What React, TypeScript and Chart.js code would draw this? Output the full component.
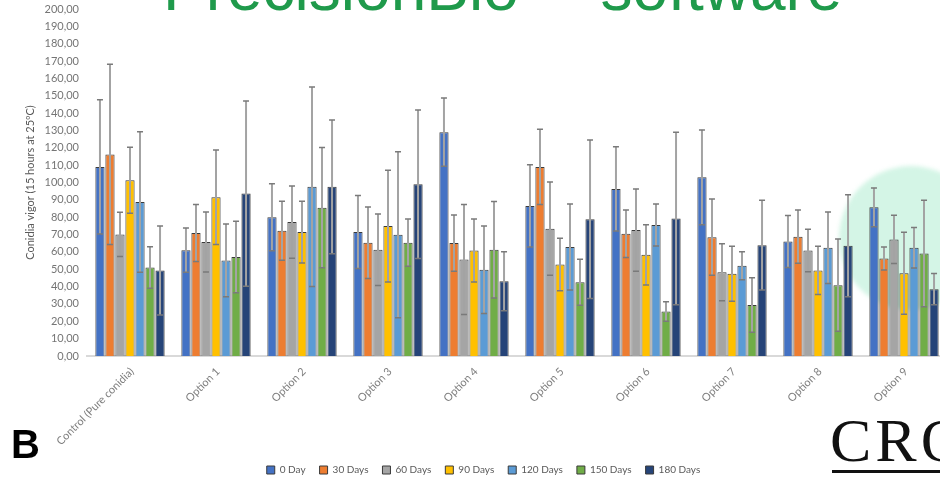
import React, { useEffect, useRef } from "react";
import { Chart, registerables } from "chart.js";

Chart.register(...registerables);

const categories = [
  "Control (Pure conidia)",
  "Option 1",
  "Option 2",
  "Option 3",
  "Option 4",
  "Option 5",
  "Option 6",
  "Option 7",
  "Option 8",
  "Option 9",
];

const seriesLabels = ["0 Day", "30 Days", "60 Days", "90 Days", "120 Days", "150 Days", "180 Days"];
const seriesColors = ["#4472C4", "#ED7D31", "#A5A5A5", "#FFC000", "#5B9BD5", "#70AD47", "#264478"];

const day0 = [109, 61, 80, 71.5, 129, 86.5, 96.3, 103, 66, 85.7];
const day0Err = [38.7, 12.8, 19.3, 21, 19.7, 23.7, 24.3, 27.3, 15, 11.2];
const day30 = [116.2, 70.9, 72.2, 65.3, 65.1, 109, 70.5, 68.5, 68.8, 56.2];
const day30Err = [52, 16.4, 17, 20.6, 16.2, 21.7, 13.7, 22, 15.4, 6.6];
const day60 = [70.1, 65.7, 77.2, 61.2, 55.6, 73.4, 72.6, 48.3, 60.8, 67.2];
const day60Err = [12.7, 17.3, 20.8, 20.6, 31.7, 26.9, 23.7, 16.4, 12.2, 13.9];
const day90 = [101.3, 91.5, 71.4, 74.9, 60.8, 52.7, 58.3, 47.4, 49.3, 47.7];
const day90Err = [19, 27.2, 17.8, 32.2, 18.1, 15.1, 17.4, 15.9, 13.9, 23.6];
const day120 = [88.8, 55.1, 97.5, 69.9, 49.7, 62.8, 75.5, 52, 62.4, 62.4];
const day120Err = [40.5, 21, 57.5, 47.8, 25.2, 24.8, 12.1, 8.1, 20.6, 11.7];
const day150 = [51, 57, 85.5, 65.3, 61.2, 42.5, 25.6, 29.4, 40.8, 59.1];
const day150Err = [12, 20.6, 34.7, 13.6, 27.8, 13.3, 5.6, 15.7, 26.6, 30.7];
const day180 = [49.3, 93.6, 97.5, 99, 43.1, 78.8, 79.2, 63.9, 63.6, 38.5];
const day180Err = [25.6, 53.4, 38.5, 42.8, 17, 45.7, 49.7, 25.9, 29.4, 9];

const yMin = 0;
const yMax = 200;
const yStep = 10;
const yTitle = "Conidia vigor (15 hours at 25ºC)";
const headerText = "PrecisionBio™ software";
const panelLetter = "B";
const logoText = "CRO";

export default function App() {
  const ref = useRef<HTMLCanvasElement>(null);

  useEffect(() => {
    const values = [day0, day30, day60, day90, day120, day150, day180];
    const errors = [day0Err, day30Err, day60Err, day90Err, day120Err, day150Err, day180Err];

    const errorBars = {
      id: "errorBars",
      afterDatasetsDraw(chart: any) {
        const ctx = chart.ctx;
        const ys = chart.scales.y;
        chart.data.datasets.forEach((ds: any, di: number) => {
          const meta = chart.getDatasetMeta(di);
          meta.data.forEach((el: any, i: number) => {
            const v = ds.data[i];
            const e = errors[di][i];
            const x = el.x;
            const yt = ys.getPixelForValue(v + e);
            const yb = ys.getPixelForValue(v - e);
            ctx.save();
            ctx.strokeStyle = "#a3a3a3";
            ctx.lineWidth = 2;
            ctx.beginPath();
            ctx.moveTo(x, yt);
            ctx.lineTo(x, yb);
            ctx.stroke();
            ctx.strokeStyle = "#7a7a7a";
            ctx.lineWidth = 1.5;
            ctx.beginPath();
            ctx.moveTo(x - 3, yt);
            ctx.lineTo(x + 3, yt);
            ctx.moveTo(x - 3, yb);
            ctx.lineTo(x + 3, yb);
            ctx.stroke();
            ctx.restore();
          });
        });
      },
    };

    const chart = new Chart(ref.current!, {
      type: "bar",
      data: {
        labels: categories,
        datasets: seriesLabels.map((label, i) => ({
          label,
          data: values[i],
          backgroundColor: seriesColors[i],
          borderColor: "#3a3a3a",
          borderWidth: 1,
          categoryPercentage: 0.815,
          barPercentage: 0.92,
        })),
      },
      options: {
        responsive: false,
        animation: false,
        devicePixelRatio: 1,
        layout: { padding: { left: 20, top: 9, right: 0, bottom: 0 } },
        plugins: {
          legend: {
            position: "bottom",
            labels: {
              boxWidth: 8,
              boxHeight: 8,
              padding: 14,
              color: "#595959",
              font: { family: "Lato", size: 10 },
            },
          },
          tooltip: { enabled: false },
        },
        scales: {
          x: {
            grid: { display: false },
            border: { display: true, color: "#d9d9d9", width: 2 },
            ticks: {
              minRotation: 45,
              maxRotation: 45,
              autoSkip: false,
              padding: 1,
              labelOffset: 2,
              color: "#7f7f7f",
              font: { family: "Lato", size: 11 },
            },
            afterFit: (s: any) => {
              s.height = 95;
            },
          },
          y: {
            min: yMin,
            max: yMax,
            grid: { display: false, drawTicks: false },
            border: { display: false },
            ticks: {
              stepSize: yStep,
              padding: 8,
              color: "#757575",
              font: { family: "Lato", size: 11 },
              callback: (v: any) => Number(v).toFixed(2).replace(".", ","),
            },
            title: {
              display: true,
              text: yTitle,
              color: "#595959",
              font: { family: "Lato", size: 11 },
            },
            afterFit: (s: any) => {
              s.width = 67;
              s.paddingTop = 0;
              s.paddingBottom = 0;
            },
          },
        },
      },
      plugins: [errorBars],
    });
    return () => chart.destroy();
  }, []);

  return (
    <div
      style={{
        position: "fixed",
        left: 0,
        top: 0,
        width: 940,
        height: 478,
        overflow: "hidden",
        background: "#ffffff",
      }}
    >
      <div
        style={{
          position: "absolute",
          left: 839,
          top: 166,
          width: 144,
          height: 144,
          borderRadius: "50%",
          background: "#d4f5e6",
          filter: "blur(2px)",
        }}
      />
      <canvas
        ref={ref}
        width={947}
        height={485}
        style={{ position: "absolute", left: 0, top: 0, width: 947, height: 485 }}
      />
      <div
        style={{
          position: "absolute",
          left: 163,
          top: -44,
          fontFamily: "'Liberation Sans', Arial, sans-serif",
          fontSize: 64,
          lineHeight: "64px",
          color: "#1f9a4b",
          whiteSpace: "nowrap",
        }}
      >
        {headerText}
      </div>
      <div
        style={{
          position: "absolute",
          left: 11,
          top: 424,
          fontFamily: "'Liberation Sans', Arial, sans-serif",
          fontWeight: "bold",
          fontSize: 40,
          lineHeight: "40px",
          color: "#000000",
        }}
      >
        {panelLetter}
      </div>
      <div
        style={{
          position: "absolute",
          left: 830,
          top: 409,
          fontFamily: "'Liberation Serif', 'Times New Roman', serif",
          fontSize: 62,
          lineHeight: "62px",
          letterSpacing: 4,
          color: "#111111",
          whiteSpace: "nowrap",
        }}
      >
        {logoText}
      </div>
      <div
        style={{
          position: "absolute",
          left: 832,
          top: 470,
          width: 120,
          height: 3,
          background: "#111111",
        }}
      />
    </div>
  );
}
